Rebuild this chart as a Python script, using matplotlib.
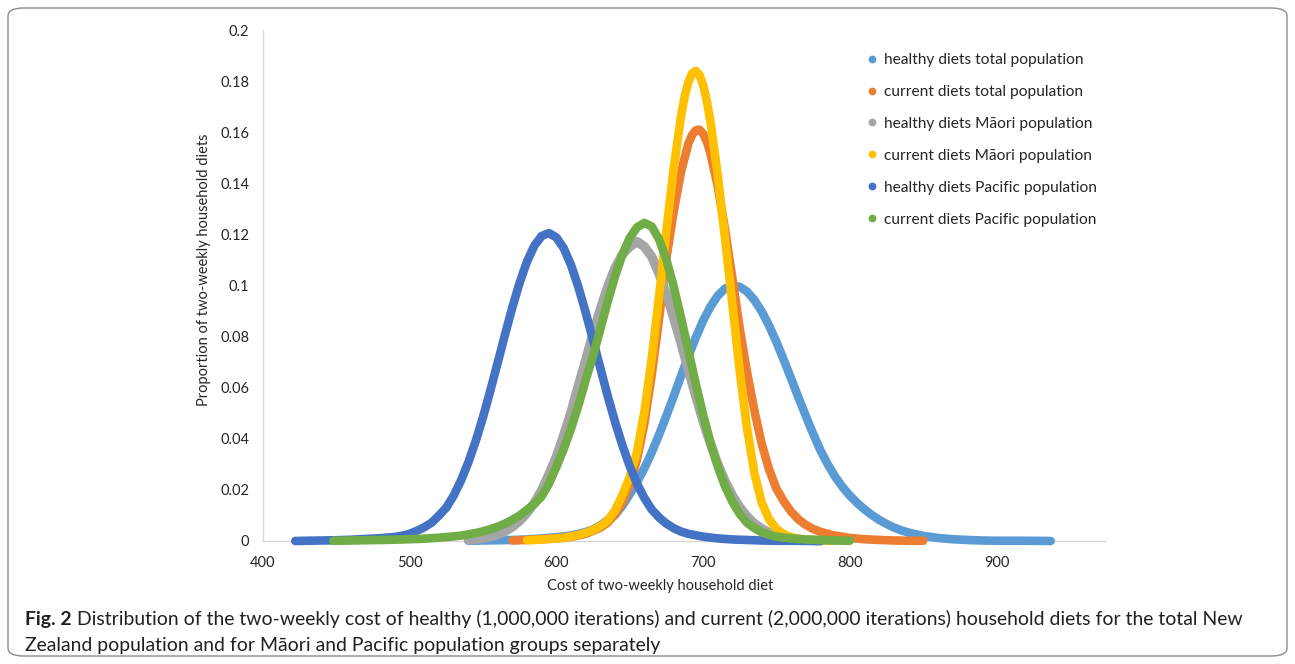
import matplotlib
matplotlib.use("Agg")
import matplotlib.pyplot as plt
from matplotlib.lines import Line2D
from matplotlib.patches import FancyBboxPatch

plt.rcParams['font.family'] = ['Lato', 'DejaVu Sans']

# ---------------- data ----------------
series_labels = [
    "healthy diets total population",
    "current diets total population",
    "healthy diets M\u0101ori population",
    "current diets M\u0101ori population",
    "healthy diets Pacific population",
    "current diets Pacific population",
]
series_colors = ["#5B9BD5", "#ED7D31", "#A5A5A5", "#FFC000", "#4472C4", "#70AD47"]

healthy_total_x = [540, 550, 560, 570, 580, 590, 600, 605, 610, 615, 620, 625, 630, 635, 640, 645,
                   650, 655, 660, 665, 670, 675, 680, 685, 690, 695, 700, 705, 710, 715, 720, 725,
                   730, 735, 740, 745, 750, 755, 760, 765, 770, 775, 780, 785, 790, 795, 800, 805,
                   810, 815, 820, 825, 830, 835, 840, 850, 860, 870, 880, 890, 900, 910, 920, 937]
healthy_total_y = [0.0001, 0.0002, 0.0003, 0.0004, 0.0006, 0.0010, 0.0015, 0.0018, 0.0022, 0.0028,
                   0.0035, 0.0045, 0.0061, 0.0082, 0.0102, 0.0138, 0.0183, 0.0230, 0.0285, 0.0347,
                   0.0416, 0.0490, 0.0567, 0.0646, 0.0723, 0.0796, 0.0862, 0.0917, 0.0960, 0.0988,
                   0.1000, 0.0995, 0.0976, 0.0943, 0.0898, 0.0843, 0.0779, 0.0709, 0.0636, 0.0562,
                   0.0490, 0.0420, 0.0355, 0.0300, 0.0252, 0.0212, 0.0178, 0.0149, 0.0124, 0.0102,
                   0.0083, 0.0067, 0.0053, 0.0042, 0.0033, 0.0020, 0.0012, 0.0007, 0.0004, 0.0002,
                   0.0001, 0.0001, 0.0001, 0.0000]

current_total_x = [570, 580, 590, 600, 610, 620, 630, 635, 640, 645, 650, 655, 660, 665, 670, 675,
                   680, 685, 690, 692.5, 695, 697.5, 700, 702.5, 705, 710, 715, 720, 725, 730, 735,
                   740, 745, 750, 755, 760, 765, 770, 775, 780, 785, 790, 800, 810, 820, 830, 840,
                   850]
current_total_y = [0.0002, 0.0004, 0.0007, 0.0010, 0.0016, 0.0028, 0.0052, 0.0072, 0.0105, 0.0150,
                   0.0220, 0.0320, 0.0460, 0.0650, 0.0870, 0.1106, 0.1290, 0.1446, 0.1556, 0.1589,
                   0.1607, 0.1610, 0.1594, 0.1564, 0.1518, 0.1388, 0.1219, 0.1027, 0.0832, 0.0660,
                   0.0510, 0.0380, 0.0280, 0.0205, 0.0155, 0.0115, 0.0085, 0.0063, 0.0047, 0.0036,
                   0.0028, 0.0021, 0.0012, 0.0007, 0.0004, 0.0002, 0.0001, 0.0001]

healthy_maori_x = [540, 545, 550, 555, 560, 565, 570, 575, 580, 585, 590, 595, 600, 605, 610, 615,
                   620, 625, 630, 635, 640, 645, 650, 655, 660, 665, 670, 675, 680, 685, 690, 695,
                   700, 705, 710, 715, 720, 725, 730, 735, 740, 745, 750, 760, 770, 780]
healthy_maori_y = [0.0004, 0.0007, 0.0011, 0.0017, 0.0026, 0.0038, 0.0055, 0.0079, 0.0110, 0.0149,
                   0.0199, 0.0262, 0.0330, 0.0414, 0.0504, 0.0608, 0.0708, 0.0813, 0.0908, 0.0995,
                   0.1068, 0.1122, 0.1152, 0.1172, 0.1152, 0.1113, 0.1046, 0.0966, 0.0873, 0.0774,
                   0.0668, 0.0568, 0.0469, 0.0382, 0.0301, 0.0234, 0.0178, 0.0132, 0.0096, 0.0068,
                   0.0048, 0.0033, 0.0022, 0.0009, 0.0003, 0.0001]

current_maori_x = [580, 585, 590, 595, 600, 605, 610, 615, 620, 625, 630, 635, 640, 645, 650, 655,
                   660, 665, 670, 675, 680, 685, 687.5, 690, 692.5, 695, 697.5, 700, 702.5, 705,
                   710, 715, 720, 725, 730, 735, 740, 745, 750, 755, 760, 765, 770, 780, 790]
current_maori_y = [0.0003, 0.0004, 0.0006, 0.0008, 0.0010, 0.0013, 0.0018, 0.0024, 0.0032, 0.0043,
                   0.0058, 0.0080, 0.0120, 0.0180, 0.0250, 0.0350, 0.0506, 0.0715, 0.0957, 0.1214,
                   0.1460, 0.1664, 0.1741, 0.1797, 0.1830, 0.1840, 0.1825, 0.1785, 0.1724, 0.1642,
                   0.1432, 0.1183, 0.0926, 0.0665, 0.0440, 0.0265, 0.0150, 0.0085, 0.0048, 0.0027,
                   0.0015, 0.0009, 0.0005, 0.0002, 0.0001]

healthy_pacific_x = [422, 430, 440, 450, 460, 470, 480, 490, 495, 500, 505, 510, 515, 520, 525, 530,
                     535, 540, 545, 550, 555, 560, 565, 570, 575, 580, 585, 590, 595, 600, 605, 610,
                     615, 620, 625, 630, 635, 640, 645, 650, 655, 660, 665, 670, 675, 680, 685, 690,
                     700, 710, 720, 730, 740, 750, 760, 780]
healthy_pacific_y = [0.0000, 0.0001, 0.0002, 0.0003, 0.0005, 0.0008, 0.0011, 0.0016, 0.0021, 0.0028,
                     0.0040, 0.0054, 0.0072, 0.0100, 0.0131, 0.0178, 0.0237, 0.0308, 0.0391, 0.0485,
                     0.0589, 0.0698, 0.0808, 0.0915, 0.1012, 0.1094, 0.1156, 0.1194, 0.1205, 0.1188,
                     0.1146, 0.1080, 0.0994, 0.0894, 0.0786, 0.0676, 0.0567, 0.0466, 0.0374, 0.0293,
                     0.0224, 0.0168, 0.0123, 0.0092, 0.0068, 0.0050, 0.0037, 0.0028, 0.0017, 0.0010,
                     0.0006, 0.0004, 0.0002, 0.0001, 0.0001, 0.0000]

current_pacific_x = [448, 460, 470, 480, 490, 500, 510, 520, 530, 535, 540, 545, 550, 555, 560, 565,
                     570, 575, 580, 585, 590, 595, 600, 605, 610, 615, 620, 625, 630, 635, 640, 645,
                     650, 655, 660, 665, 670, 675, 680, 685, 690, 695, 700, 705, 710, 715, 720, 725,
                     730, 735, 740, 745, 750, 760, 770, 780, 790, 800]
current_pacific_y = [0.0001, 0.0002, 0.0003, 0.0004, 0.0005, 0.0007, 0.0009, 0.0013, 0.0018, 0.0021,
                     0.0026, 0.0031, 0.0038, 0.0046, 0.0056, 0.0068, 0.0083, 0.0100, 0.0122, 0.0145,
                     0.0175, 0.0225, 0.0290, 0.0360, 0.0440, 0.0530, 0.0630, 0.0725, 0.0830, 0.0938,
                     0.1036, 0.1121, 0.1186, 0.1228, 0.1245, 0.1231, 0.1181, 0.1101, 0.0995, 0.0874,
                     0.0745, 0.0616, 0.0495, 0.0386, 0.0292, 0.0214, 0.0153, 0.0106, 0.0071, 0.0050,
                     0.0034, 0.0024, 0.0017, 0.0010, 0.0006, 0.0004, 0.0002, 0.0001]

x_ticks = [400, 500, 600, 700, 800, 900]
x_tick_labels = ["400", "500", "600", "700", "800", "900"]
y_ticks = [0, 0.02, 0.04, 0.06, 0.08, 0.1, 0.12, 0.14, 0.16, 0.18, 0.2]
y_tick_labels = ["0", "0.02", "0.04", "0.06", "0.08", "0.1", "0.12", "0.14", "0.16", "0.18", "0.2"]

x_label = "Cost of two-weekly household diet"
y_label = "Proportion of two-weekly household diets"
caption_bold = "Fig. 2"
caption_line1 = (" Distribution of the two-weekly cost of healthy (1,000,000 iterations) and current "
                 "(2,000,000 iterations) household diets for the total New")
caption_line2 = "Zealand population and for M\u0101ori and Pacific population groups separately"

# ---------------- figure ----------------
W, H = 1295, 664
fig = plt.figure(figsize=(W / 100, H / 100), dpi=100)
fig.patch.set_facecolor("white")

frame = FancyBboxPatch((8 / W, 8 / H), (W - 16) / W, (H - 16) / H,
                       boxstyle="round,pad=0,rounding_size=0.012",
                       transform=fig.transFigure, facecolor="none",
                       edgecolor="#8c8c8c", linewidth=1.0, zorder=0)
fig.patches.append(frame)

ax_l, ax_r, ax_t, ax_b = 263, 1105, 30, 541
ax = fig.add_axes([ax_l / W, 1 - ax_b / H, (ax_r - ax_l) / W, (ax_b - ax_t) / H])

all_x = [healthy_total_x, current_total_x, healthy_maori_x, current_maori_x,
         healthy_pacific_x, current_pacific_x]
all_y = [healthy_total_y, current_total_y, healthy_maori_y, current_maori_y,
         healthy_pacific_y, current_pacific_y]

for i, (xs, ys) in enumerate(zip(all_x, all_y)):
    lw = 6.8 if i == 2 else 6.2
    ax.plot(xs, ys, color=series_colors[i], lw=lw, solid_capstyle="round",
            solid_joinstyle="round", zorder=3 + i, clip_on=False)

ax.set_xlim(400, 974)
ax.set_ylim(0, 0.2)
ax.set_xticks(x_ticks)
ax.set_xticklabels(x_tick_labels)
ax.set_yticks(y_ticks)
ax.set_yticklabels(y_tick_labels)
text_col = "#262626"
ax.tick_params(axis="both", length=0, labelsize=10.5, colors=text_col)
ax.tick_params(axis="y", pad=10)
ax.tick_params(axis="x", pad=11)
for s in ["top", "right"]:
    ax.spines[s].set_visible(False)
for s in ["left", "bottom"]:
    ax.spines[s].set_color("#D9D9D9")
    ax.spines[s].set_linewidth(1.0)
    ax.spines[s].set_zorder(1)

fig.text(660 / W, 1 - 586 / H, x_label, ha="center", va="center", fontsize=10.5, color=text_col)
fig.text(204 / W, 1 - 270 / H, y_label, ha="center", va="center", rotation=90,
         fontsize=10.5, color=text_col)

handles = [Line2D([], [], linestyle="none", marker="o", markersize=4.6,
                  markerfacecolor=c, markeredgecolor=c) for c in series_colors]
leg = ax.legend(handles, series_labels, loc="upper left",
                bbox_to_anchor=(868 / W, 1 - 53 / H), bbox_transform=fig.transFigure,
                frameon=False, fontsize=11.2, handlelength=0.5, handletextpad=0.5,
                labelspacing=1.155, borderpad=0, borderaxespad=0)
for t in leg.get_texts():
    t.set_color(text_col)

cap_col = "#231F20"
cap_fs = 13.95
fb = fig.text(25 / W, 1 - 619 / H, caption_bold, ha="left", va="center",
              fontsize=cap_fs, fontweight="bold", color=cap_col)
fig.canvas.draw()
bb = fb.get_window_extent()
fig.text(bb.x1 / W, 1 - 619 / H, caption_line1, ha="left", va="center",
         fontsize=cap_fs, color=cap_col)
fig.text(25 / W, 1 - 646 / H, caption_line2, ha="left", va="center",
         fontsize=cap_fs, color=cap_col)

fig.savefig("out.png", dpi=100, facecolor="white")
